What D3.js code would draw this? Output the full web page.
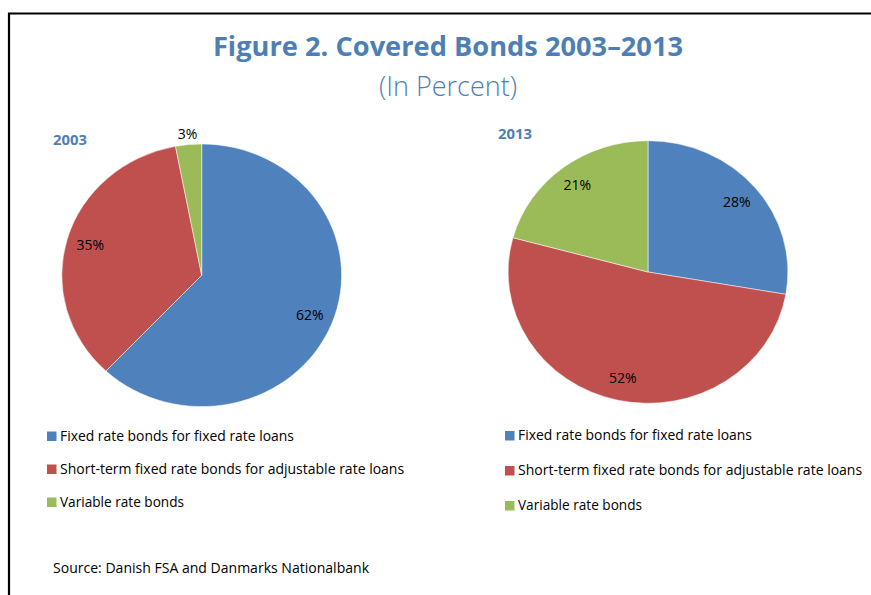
<!DOCTYPE html>
<html><head><meta charset="utf-8">
<script src="https://cdn.jsdelivr.net/npm/d3@7"></script>
<style>body{margin:0;background:#fff}svg{display:block}</style>
</head><body>
<script>
const categories = ["Fixed rate bonds for fixed rate loans","Short-term fixed rate bonds for adjustable rate loans","Variable rate bonds"];
const years = ["2003","2013"];
const values2003 = [62, 35, 3];
const values2013 = [28, 52, 21];
const colors = ["#4F81BD","#C0504D","#9BBB59"];

const W = 871, H = 595;
const FONT = "'Open Sans', 'Liberation Sans', sans-serif";
const svg = d3.select("body").append("svg").attr("width", W).attr("height", H);

function fit(sel, target){
  let fs = parseFloat(sel.attr("font-size"));
  for (let i=0;i<4;i++){
    const w = sel.node().getComputedTextLength();
    fs = fs * target / w;
    sel.attr("font-size", fs);
  }
}

// frame
svg.append("path").attr("d", `M9,${H} L9,13.5 L${W},13.5`).attr("fill","none").attr("stroke","#000").attr("stroke-width",2.2);

const title = svg.append("text").attr("x",448).attr("y",56).attr("text-anchor","middle")
  .attr("font-family",FONT).attr("font-weight","bold").attr("font-size",26).attr("fill","#4E7FB4")
  .text("Figure 2. Covered Bonds 2003\u20132013");
fit(title, 470);
const sub = svg.append("text").attr("x",448).attr("y",96).attr("text-anchor","middle")
  .attr("font-family",FONT).attr("font-weight",300).attr("font-size",24).attr("fill","#4E7FB4")
  .text("(In Percent)");
fit(sub, 138);

const pies = [
  {year: years[0], values: values2003, cx: 201.7, cy: 275.3, yearX: 53, yearY: 145, legX: 47, legY: 436, legStep: 33},
  {year: years[1], values: values2013, cx: 648, cy: 272, yearX: 498, yearY: 139, legX: 505, legY: 435.5, legStep: 35}
];
const legendWidths = [234, 344, 124];
const R = 131.3, RX = 139.9;
const sx = RX / R;
const pie = d3.pie().sort(null).value(d => d);
const arc = d3.arc().innerRadius(0).outerRadius(R);

pies.forEach(p => {
  const arcs = pie(p.values);
  const g = svg.append("g").attr("transform", `translate(${p.cx},${p.cy}) scale(${sx},1)`);
  g.selectAll("path").data(arcs).join("path")
    .attr("d", arc)
    .attr("fill", (d,i) => colors[i])
    .attr("stroke", "#fff").attr("stroke-width", 0.5);

  svg.selectAll(null).data(arcs).join("text")
    .attr("font-family", FONT).attr("font-size", 14).attr("fill", "#000")
    .attr("text-anchor", "middle")
    .attr("x", d => { const a=(d.startAngle+d.endAngle)/2; const r = (d.endAngle-d.startAngle) < 0.3 ? 142 : 109; return p.cx + Math.sin(a)*r*sx; })
    .attr("y", d => { const a=(d.startAngle+d.endAngle)/2; const r = (d.endAngle-d.startAngle) < 0.3 ? 142 : 109; return p.cy - Math.cos(a)*r + 5; })
    .text(d => d.data + "%");

  const yt = svg.append("text").attr("x", p.yearX).attr("y", p.yearY)
    .attr("font-family", FONT).attr("font-weight","bold").attr("font-size", 13).attr("fill", "#4E7FB4")
    .text(p.year);
  fit(yt, 34);

  categories.forEach((c,i) => {
    const y = p.legY + i*p.legStep;
    svg.append("rect").attr("x", p.legX).attr("y", y-4.5).attr("width", 9.5).attr("height", 9.5).attr("fill", colors[i]);
    const t = svg.append("text").attr("x", p.legX + 13).attr("y", y + 4.5)
      .attr("font-family", FONT).attr("font-size", 13).attr("fill", "#000").text(c);
    fit(t, legendWidths[i]);
  });
});

const src = svg.append("text").attr("x",53).attr("y",573).attr("font-family",FONT).attr("font-size",13).attr("fill","#000")
  .text("Source: Danish FSA and Danmarks Nationalbank");
fit(src, 316);
</script>
</body></html>
